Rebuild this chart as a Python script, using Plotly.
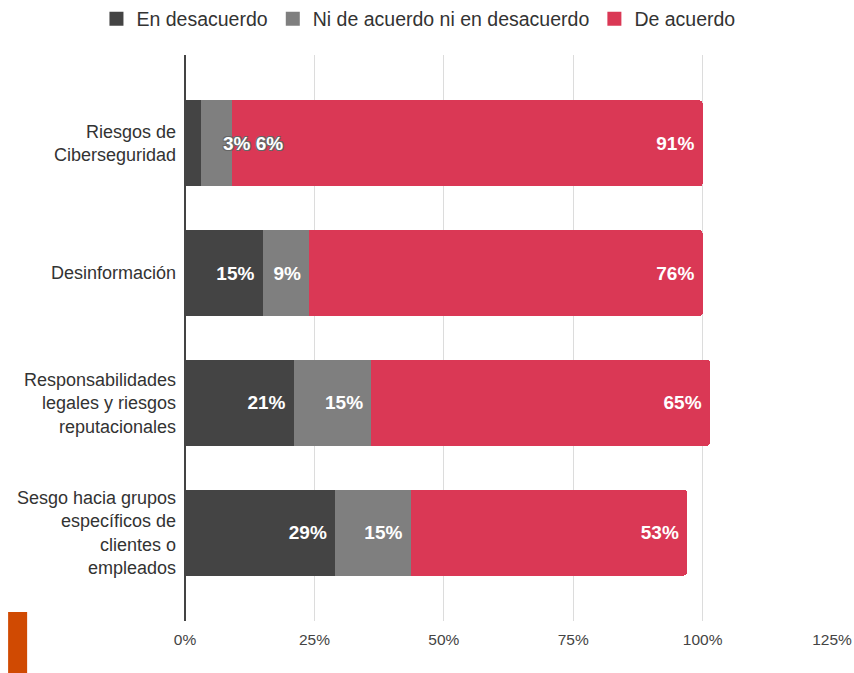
import plotly.graph_objects as go

categories = ["Riesgos de<br>Ciberseguridad", "Desinformación",
              "Responsabilidades<br>legales y riesgos<br>reputacionales",
              "Sesgo hacia grupos<br>específicos de<br>clientes o<br>empleados"]
series_names = ["En desacuerdo", "Ni de acuerdo ni en desacuerdo", "De acuerdo"]
en_desacuerdo = [3, 15, 21, 29]
neutral = [6, 9, 15, 14.6]
de_acuerdo = [91, 76, 65.4, 53.4]
x_ticks = [0, 25, 50, 75, 100, 125]
x_tick_labels = ["0%", "25%", "50%", "75%", "100%", "125%"]

colors = ["#444444", "#7f7f7f", "#da3855"]
series = [en_desacuerdo, neutral, de_acuerdo]
FONT = "Liberation Sans, Arial"
NBSP = "\u00a0"

fig = go.Figure()
for i, (name, vals) in enumerate(zip(series_names, series)):
    texts = [f"{round(v)}%{NBSP}" for v in vals]
    if i < 2:
        texts[0] = ""  # small segments labelled together below
    fig.add_trace(go.Bar(
        y=categories, x=vals, name=name, orientation="h",
        marker=dict(color=colors[i], line=dict(width=0)),
        text=texts, textposition="inside", insidetextanchor="end",
        textangle=0, constraintext="none",
        textfont=dict(family=FONT, size=19, color="white", weight="bold"),
        hoverinfo="skip", showlegend=False,
    ))
    # legend entry with square symbol
    fig.add_trace(go.Scatter(
        x=[None], y=[None], mode="markers", name=name,
        marker=dict(symbol="square", size=14, color=colors[i]),
        hoverinfo="skip", showlegend=True,
    ))

fig.add_annotation(
    x=en_desacuerdo[0] + neutral[0], y=categories[0], xref="x", yref="y",
    text=f"{en_desacuerdo[0]}% {neutral[0]}%", showarrow=False,
    xanchor="center", xshift=21,
    font=dict(family=FONT, size=19, color="white", weight="bold",
              shadow="-1px -1px 0 #666, 1px -1px 0 #666, -1px 1px 0 #666, 1px 1px 0 #666"),
)

fig.add_shape(type="rect", xref="paper", yref="paper",
              x0=-0.2734, x1=-0.244, y0=0.016, y1=-0.092,
              fillcolor="#d04a02", line=dict(width=0), layer="above")

fig.update_layout(
    barmode="stack", bargap=0.34, barcornerradius=3,
    width=854, height=673,
    margin=dict(l=185, r=21.5, t=55, b=52, autoexpand=False),
    paper_bgcolor="white", plot_bgcolor="white",
    font=dict(family=FONT, color="#333333"),
    legend=dict(orientation="h", xref="container", yref="container",
                x=0.49, xanchor="center", y=0.9718, yanchor="middle",
                font=dict(size=19.5, color="#333333"), traceorder="normal"),
    xaxis=dict(range=[0, 125], tickvals=x_ticks, ticktext=x_tick_labels,
               showgrid=True, gridcolor="#dcdcdc", gridwidth=1,
               zeroline=True, zerolinecolor="#444444", zerolinewidth=1.5,
               tickfont=dict(size=15.5, color="#444444"), ticks="",
               ticklabelstandoff=7, automargin=False),
    yaxis=dict(autorange=False, range=[3.68, -0.68],
               tickfont=dict(size=18, color="#333333"), ticks="",
               ticklabelstandoff=8, showgrid=False, automargin=False),
)

fig.write_html("out.html",
               config={"displayModeBar": False},
               post_script="document.body.style.margin='0';document.body.style.overflow='hidden';")
